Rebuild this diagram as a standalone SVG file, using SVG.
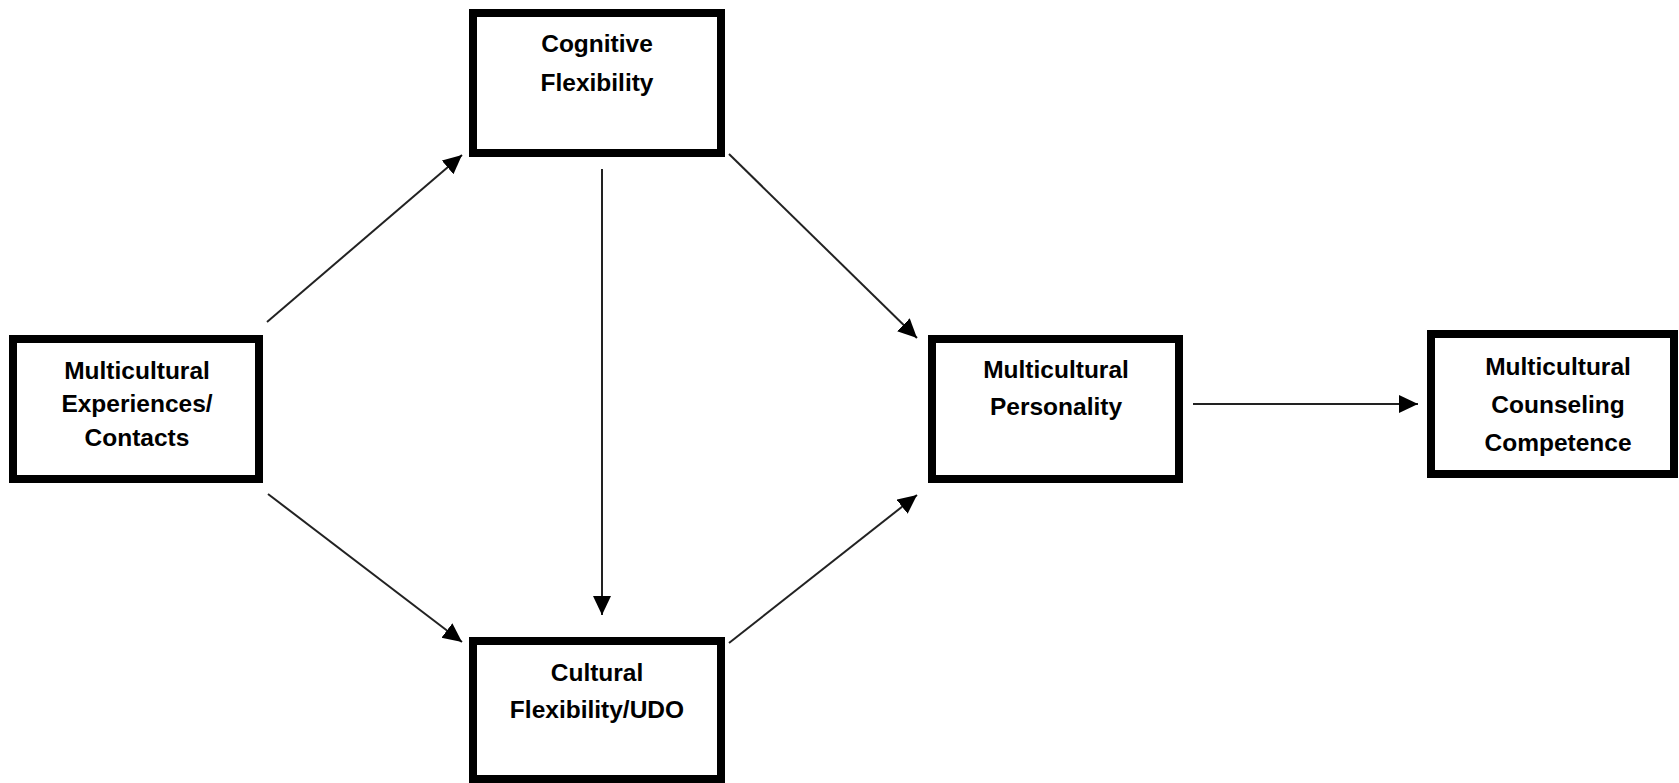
<svg xmlns="http://www.w3.org/2000/svg" width="1679" height="783" viewBox="0 0 1679 783">
<style>
.box{fill:#fff;stroke:#000;stroke-width:8}
.lbl{font-family:"Liberation Sans",Arial,sans-serif;font-weight:bold;font-size:24.5px;fill:#000;text-anchor:middle}
.conn{stroke:#222;stroke-width:2;fill:none;marker-end:url(#ah)}
</style>
<defs>
<marker id="ah" markerUnits="userSpaceOnUse" markerWidth="20" markerHeight="20" refX="19" refY="9" orient="auto">
<path d="M0,0 L19,9 L0,18 z" fill="#000"/>
</marker>
</defs>
<rect width="1679" height="783" fill="#fff"/>
<g id="connectors">
<line class="conn" x1="267" y1="322" x2="462" y2="155"/>
<line class="conn" x1="268" y1="494" x2="462" y2="642"/>
<line class="conn" x1="602" y1="169" x2="602" y2="615"/>
<line class="conn" x1="729" y1="154" x2="917" y2="338"/>
<line class="conn" x1="729" y1="643" x2="917" y2="495"/>
<line class="conn" x1="1193" y1="404" x2="1418" y2="404"/>
</g>
<g id="node-experiences">
<rect class="box" x="13" y="339" width="246" height="140"/>
<text class="lbl" x="137" y="379">Multicultural</text>
<text class="lbl" x="137" y="412">Experiences/</text>
<text class="lbl" x="137" y="446">Contacts</text>
</g>
<g id="node-cognitive">
<rect class="box" x="473" y="13" width="248" height="140"/>
<text class="lbl" x="597" y="52">Cognitive</text>
<text class="lbl" x="597" y="91">Flexibility</text>
</g>
<g id="node-cultural">
<rect class="box" x="473" y="641" width="248" height="138"/>
<text class="lbl" x="597" y="681">Cultural</text>
<text class="lbl" x="597" y="718">Flexibility/UDO</text>
</g>
<g id="node-personality">
<rect class="box" x="932" y="339" width="247" height="140"/>
<text class="lbl" x="1056" y="378">Multicultural</text>
<text class="lbl" x="1056" y="415">Personality</text>
</g>
<g id="node-competence">
<rect class="box" x="1431" y="334" width="243" height="140"/>
<text class="lbl" x="1558" y="375">Multicultural</text>
<text class="lbl" x="1558" y="413">Counseling</text>
<text class="lbl" x="1558" y="451">Competence</text>
</g>
</svg>
